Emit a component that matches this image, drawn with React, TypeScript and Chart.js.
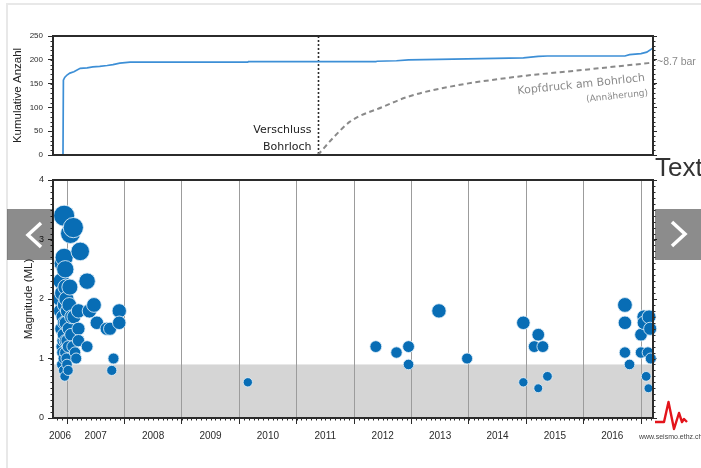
import { useEffect, useRef } from 'react';
import { Chart, registerables } from 'chart.js';

Chart.register(...registerables);

const INK = '#2b2b2b';
const SANS = '"Liberation Sans", Arial, Helvetica, sans-serif';
const WIDE = '"DejaVu Sans", Verdana, sans-serif';
const EVENT_BLUE = '#086db5';
const COUNT_BLUE = '#3d8fd6';
const PRESSURE_GREY = '#8a8a8a';

// Time axis, in decimal years
const YEAR_MIN = 2006.756;
const YEAR_MAX = 2017.209;
const YEAR_LABELS = ['2006', '2007', '2008', '2009', '2010', '2011', '2012', '2013', '2014', '2015', '2016'];
const YEAR_BOUNDARIES = [2007, 2008, 2009, 2010, 2011, 2012, 2013, 2014, 2015, 2016, 2017];

// Cumulative number of located events
const CUM_YEARS = [
  2006.93, 2006.937, 2006.96, 2007.0, 2007.05, 2007.12, 2007.23, 2007.35, 2007.45, 2007.57,
  2007.7, 2007.8, 2007.92, 2008.1, 2010.15, 2010.16, 2012.38, 2012.4, 2012.74, 2012.95,
  2013.48, 2013.97, 2014.95, 2015.21, 2015.37, 2016.72, 2016.8, 2017.0, 2017.1, 2017.2,
];
const CUM_COUNTS = [
  0, 157, 163, 168, 172, 175, 182, 183, 185, 186,
  188, 190, 193, 195, 195, 196, 196, 197, 198, 200,
  201, 202, 204, 207, 208, 208, 211, 213, 216, 224,
];
const COUNT_MAX = 250;
const COUNT_STEP = 50;

// Wellhead pressure after the borehole was shut in (bar)
const SHUT_IN_YEAR = 2011.37;
const PRESSURE_YEARS = [2011.37, 2011.65, 2011.93, 2012.51, 2012.94, 2013.67, 2014.84, 2015.99, 2017.15];
const PRESSURE_BAR = [0, 1.7, 3.15, 4.57, 5.51, 6.46, 7.4, 8.04, 8.7];
const PRESSURE_AXIS_MAX = 11.25;

// Located events: time and local magnitude
const EVENT_YEARS = [
  2006.88, 2006.89, 2006.9, 2006.9, 2006.91, 2006.91, 2006.92, 2006.92, 2006.93, 2006.93,
  2006.93, 2006.94, 2006.94, 2006.94, 2006.95, 2006.95, 2006.95, 2006.96, 2006.96, 2006.97,
  2006.97, 2006.97, 2006.98, 2006.98, 2006.99, 2006.99, 2007.0, 2007.0, 2007.01, 2007.02,
  2007.02, 2007.03, 2007.04, 2007.05, 2007.06, 2007.07, 2007.08, 2007.1, 2007.11, 2007.12,
  2007.14, 2007.16, 2007.2, 2007.2, 2007.2, 2007.23, 2007.35, 2007.35, 2007.39, 2007.47,
  2007.52, 2007.69, 2007.75, 2007.78, 2007.81, 2007.91, 2007.91,
  2010.15, 2012.38, 2012.74, 2012.95, 2012.95, 2013.48, 2013.97, 2014.95, 2014.95, 2015.14,
  2015.21, 2015.29, 2015.21, 2015.37, 2016.72, 2016.72, 2016.72, 2016.8, 2017.0, 2017.0,
  2017.05, 2017.05, 2017.14, 2017.16, 2017.12, 2017.17, 2017.09, 2017.13,
];
const EVENT_MAGNITUDES = [
  2.0, 1.8, 1.5, 2.3, 1.2, 0.9, 2.1, 1.1, 2.6, 1.7,
  1.3, 1.0, 1.4, 0.8, 3.4, 2.7, 1.6, 1.9, 0.7, 2.5,
  1.3, 1.1, 2.2, 1.6, 1.0, 2.0, 0.9, 1.3, 1.8, 0.8,
  1.2, 1.5, 1.9, 2.2, 3.1, 1.4, 1.7, 1.2, 3.2, 1.7,
  1.1, 1.0, 1.8, 1.5, 1.3, 2.8, 2.3, 1.2, 1.8, 1.9,
  1.6, 1.5, 1.5, 0.8, 1.0, 1.8, 1.6,
  0.6, 1.2, 1.1, 1.2, 0.9, 1.8, 1.0, 1.6, 0.6, 1.2,
  1.4, 1.2, 0.5, 0.7, 1.9, 1.6, 1.1, 0.9, 1.4, 1.1,
  1.7, 1.6, 1.7, 1.5, 1.1, 1.0, 0.7, 0.5,
];
const MAG_MAX = 4;
const COMPLETENESS_ML = 0.9;

type Side = 'left' | 'right' | 'bottom';

function drawMinorTicks(chart: any, id: string, step: number, len: number, side: Side) {
  const s = chart.scales[id];
  const a = chart.chartArea;
  const ctx = chart.ctx;
  const k0 = Math.ceil(s.min / step - 1e-6);
  const k1 = Math.floor(s.max / step + 1e-6);
  ctx.save();
  ctx.strokeStyle = INK;
  ctx.lineWidth = 1;
  ctx.beginPath();
  for (let k = k0; k <= k1; k++) {
    const p = Math.round(s.getPixelForValue(k * step)) + 0.5;
    if (side === 'left') {
      ctx.moveTo(a.left - len, p);
      ctx.lineTo(a.left, p);
    } else if (side === 'right') {
      ctx.moveTo(a.right, p);
      ctx.lineTo(a.right + len, p);
    } else {
      ctx.moveTo(p, a.bottom);
      ctx.lineTo(p, a.bottom + len);
    }
  }
  ctx.stroke();
  ctx.restore();
}

function drawFrame(chart: any) {
  const { ctx, chartArea: a } = chart;
  ctx.save();
  ctx.strokeStyle = INK;
  ctx.lineWidth = 2;
  ctx.strokeRect(a.left, a.top, a.right - a.left, a.bottom - a.top);
  ctx.restore();
}

function drawRotatedText(ctx: any, text: string, x: number, y: number, deg: number, font: string, color: string) {
  ctx.save();
  ctx.fillStyle = color;
  ctx.font = font;
  ctx.textAlign = 'right';
  ctx.textBaseline = 'middle';
  ctx.translate(x, y);
  ctx.rotate((deg * Math.PI) / 180);
  ctx.fillText(text, 0, 0);
  ctx.restore();
}

const countDecor = {
  id: 'countDecor',
  beforeDatasetsDraw(chart: any) {
    const { ctx, chartArea: a, scales } = chart;
    const x = Math.round(scales.x.getPixelForValue(SHUT_IN_YEAR)) + 0.5;
    ctx.save();
    ctx.strokeStyle = INK;
    ctx.lineWidth = 1.6;
    ctx.setLineDash([2, 2]);
    ctx.beginPath();
    ctx.moveTo(x, a.top);
    ctx.lineTo(x, a.bottom);
    ctx.stroke();
    ctx.restore();

    ctx.save();
    ctx.fillStyle = '#222';
    ctx.font = `11px ${WIDE}`;
    ctx.textAlign = 'right';
    ctx.textBaseline = 'middle';
    ctx.fillText('Verschluss', x - 7, a.bottom - 25);
    ctx.fillText('Bohrloch', x - 7, a.bottom - 8);
    ctx.restore();
  },
  afterDraw(chart: any) {
    const { ctx, chartArea: a, scales } = chart;
    drawFrame(chart);
    drawMinorTicks(chart, 'y', 10, 2.5, 'left');
    drawMinorTicks(chart, 'yP', PRESSURE_AXIS_MAX / 25, 2.5, 'right');

    drawRotatedText(ctx, 'Kopfdruck am Bohrloch', a.right - 8, a.top + 42, -6, `11px ${WIDE}`, PRESSURE_GREY);
    drawRotatedText(ctx, '(Annäherung)', a.right - 5, a.top + 57, -6, `9px ${WIDE}`, PRESSURE_GREY);

    const last = PRESSURE_BAR[PRESSURE_BAR.length - 1];
    ctx.save();
    ctx.fillStyle = PRESSURE_GREY;
    ctx.font = `10.5px ${SANS}`;
    ctx.textAlign = 'left';
    ctx.textBaseline = 'middle';
    ctx.fillText(`~${last} bar`, a.right + 4, scales.yP.getPixelForValue(last) - 1);
    ctx.restore();
  },
};

const eventDecor = {
  id: 'eventDecor',
  beforeDraw(chart: any) {
    const { ctx, chartArea: a, scales } = chart;
    const yTop = scales.y.getPixelForValue(COMPLETENESS_ML);
    const yBottom = scales.y.getPixelForValue(0);
    ctx.save();
    ctx.fillStyle = '#d5d5d5';
    ctx.fillRect(a.left, yTop, a.right - a.left, yBottom - yTop);
    ctx.restore();
  },
  afterDatasetsDraw(chart: any) {
    drawFrame(chart);
    drawMinorTicks(chart, 'y', 0.1, 2.5, 'left');
    drawMinorTicks(chart, 'yr', 0.1, 2.5, 'right');
    drawMinorTicks(chart, 'x', 1 / 12, 2.5, 'bottom');
  },
};

function countConfig(): any {
  return {
    type: 'line',
    data: {
      datasets: [
        {
          data: PRESSURE_YEARS.map((x, i) => ({ x, y: PRESSURE_BAR[i] })),
          yAxisID: 'yP',
          borderColor: PRESSURE_GREY,
          borderWidth: 2,
          borderDash: [5, 3.5],
          pointRadius: 0,
          cubicInterpolationMode: 'monotone',
        },
        {
          data: CUM_YEARS.map((x, i) => ({ x, y: CUM_COUNTS[i] })),
          yAxisID: 'y',
          borderColor: COUNT_BLUE,
          borderWidth: 1.7,
          pointRadius: 0,
          tension: 0,
        },
      ],
    },
    options: {
      responsive: false,
      animation: false,
      events: [],
      layout: { padding: { top: 36, left: 0, right: 0, bottom: 0 } },
      plugins: { legend: { display: false }, tooltip: { enabled: false } },
      scales: {
        x: {
          type: 'linear',
          position: 'bottom',
          min: YEAR_MIN,
          max: YEAR_MAX,
          bounds: 'data',
          ticks: { display: false },
          grid: { display: false },
          border: { display: false },
          afterFit: (s: any) => { s.height = 15; },
        },
        y: {
          type: 'linear',
          position: 'left',
          min: 0,
          max: COUNT_MAX,
          ticks: { stepSize: COUNT_STEP, font: { size: 8, family: SANS }, color: INK, padding: 5 },
          grid: { drawOnChartArea: false, tickLength: 5, tickColor: INK, tickWidth: 1 },
          border: { display: false },
          title: {
            display: true,
            text: 'Kumulative Anzahl',
            font: { size: 11.5, family: SANS },
            color: '#222',
            padding: { top: 11, bottom: 0 },
          },
          afterFit: (s: any) => { s.width = 53; },
        },
        yP: {
          type: 'linear',
          position: 'right',
          min: 0,
          max: PRESSURE_AXIS_MAX,
          afterBuildTicks: (s: any) => {
            s.ticks = [0, 1, 2, 3, 4, 5].map((i) => ({ value: (i * PRESSURE_AXIS_MAX) / 5 }));
          },
          ticks: { display: false },
          grid: { drawOnChartArea: false, tickLength: 4, tickColor: INK, tickWidth: 1 },
          border: { display: false },
          afterFit: (s: any) => { s.width = 48; },
        },
      },
    },
    plugins: [countDecor],
  };
}

function eventConfig(): any {
  const labelPositions = YEAR_LABELS.map((label) => {
    const y = Number(label);
    return (Math.max(y, YEAR_MIN) + Math.min(y + 1, YEAR_MAX)) / 2;
  });
  return {
    type: 'scatter',
    data: {
      datasets: [
        {
          data: EVENT_YEARS.map((x, i) => ({ x, y: EVENT_MAGNITUDES[i] })),
          xAxisID: 'x',
          yAxisID: 'y',
          pointRadius: (ctx: any) => 3.4 + 2.1 * EVENT_MAGNITUDES[ctx.dataIndex],
          pointBackgroundColor: EVENT_BLUE,
          pointBorderColor: 'rgba(225,238,248,0.85)',
          pointBorderWidth: 1,
          clip: false,
        },
      ],
    },
    options: {
      responsive: false,
      animation: false,
      events: [],
      layout: { padding: { top: 15, left: 0, right: 0, bottom: 0 } },
      plugins: { legend: { display: false }, tooltip: { enabled: false } },
      scales: {
        x: {
          type: 'linear',
          position: 'bottom',
          weight: 0,
          min: YEAR_MIN,
          max: YEAR_MAX,
          bounds: 'data',
          afterBuildTicks: (s: any) => { s.ticks = YEAR_BOUNDARIES.map((value) => ({ value })); },
          ticks: { display: false },
          grid: { color: '#9c9c9c', lineWidth: 1, drawTicks: true, tickLength: 6, tickColor: INK },
          border: { display: false },
          afterFit: (s: any) => { s.height = 6; },
        },
        xl: {
          type: 'linear',
          position: 'bottom',
          weight: 1,
          min: YEAR_MIN,
          max: YEAR_MAX,
          bounds: 'data',
          afterBuildTicks: (s: any) => { s.ticks = labelPositions.map((value) => ({ value })); },
          ticks: {
            autoSkip: false,
            maxRotation: 0,
            minRotation: 0,
            padding: 6,
            color: INK,
            font: { size: 10, family: SANS },
            callback: (_v: any, i: number) => YEAR_LABELS[i],
          },
          grid: { display: false, drawTicks: false },
          border: { display: false },
          afterFit: (s: any) => { s.height = 44; },
        },
        y: {
          type: 'linear',
          position: 'left',
          min: 0,
          max: MAG_MAX,
          ticks: { stepSize: 1, font: { size: 9, family: SANS }, color: INK, padding: 4 },
          grid: { drawOnChartArea: false, tickLength: 5, tickColor: INK, tickWidth: 1 },
          border: { display: false },
          title: {
            display: true,
            text: 'Magnitude (ML)',
            font: { size: 11.5, family: SANS },
            color: '#222',
            padding: { top: 22, bottom: 0 },
          },
          afterFit: (s: any) => { s.width = 53; },
        },
        yr: {
          type: 'linear',
          position: 'right',
          min: 0,
          max: MAG_MAX,
          ticks: { display: false, stepSize: 1 },
          grid: { drawOnChartArea: false, tickLength: 4, tickColor: INK, tickWidth: 1 },
          border: { display: false },
          afterFit: (s: any) => { s.width = 48; },
        },
      },
    },
    plugins: [eventDecor],
  };
}

const arrowBox: any = {
  position: 'absolute',
  top: 209,
  width: 46,
  height: 51,
  background: 'rgba(0,0,0,0.45)',
};

export default function App() {
  const topRef = useRef<HTMLCanvasElement>(null);
  const bottomRef = useRef<HTMLCanvasElement>(null);

  useEffect(() => {
    const c1 = new Chart(topRef.current as HTMLCanvasElement, countConfig());
    const c2 = new Chart(bottomRef.current as HTMLCanvasElement, eventConfig());
    return () => {
      c1.destroy();
      c2.destroy();
    };
  }, []);

  return (
    <div
      style={{
        position: 'fixed',
        left: 0,
        top: 0,
        width: 701,
        height: 468,
        overflow: 'hidden',
        background: '#fff',
        fontFamily: SANS,
      }}
    >
      <div
        style={{
          position: 'absolute',
          left: 6,
          top: 3,
          right: 0,
          bottom: 0,
          borderTop: '2px solid #e8e8e8',
          borderLeft: '2px solid #e8e8e8',
        }}
      />
      <canvas
        ref={topRef}
        width={701}
        height={170}
        style={{ position: 'absolute', left: 0, top: 0, display: 'block' }}
      />
      <canvas
        ref={bottomRef}
        width={701}
        height={303}
        style={{ position: 'absolute', left: 0, top: 165, display: 'block' }}
      />
      <div
        style={{
          position: 'absolute',
          left: 655,
          top: 154,
          fontSize: 26,
          lineHeight: '26px',
          color: '#333',
          whiteSpace: 'nowrap',
        }}
      >
        Text
      </div>
      <div style={{ ...arrowBox, left: 7 }}>
        <svg width={46} height={51}>
          <polyline points="34,14 21,26 34,38" fill="none" stroke="#fff" strokeWidth={3.5} />
        </svg>
      </div>
      <div style={{ ...arrowBox, left: 655 }}>
        <svg width={46} height={51}>
          <polyline points="17,13 30,25 17,37" fill="none" stroke="#fff" strokeWidth={3.5} />
        </svg>
      </div>
      <svg style={{ position: 'absolute', left: 650, top: 395 }} width={45} height={40}>
        <polyline
          points="5,27 14,27 18.5,7 24,34 29,18 32,27 34,24 37,27"
          fill="none"
          stroke="#e3141b"
          strokeWidth={2.4}
          strokeLinejoin="round"
        />
      </svg>
      <div
        style={{
          position: 'absolute',
          left: 639,
          top: 433,
          fontSize: 7,
          lineHeight: '8px',
          color: '#444',
          whiteSpace: 'nowrap',
        }}
      >
        www.seismo.ethz.ch
      </div>
    </div>
  );
}
